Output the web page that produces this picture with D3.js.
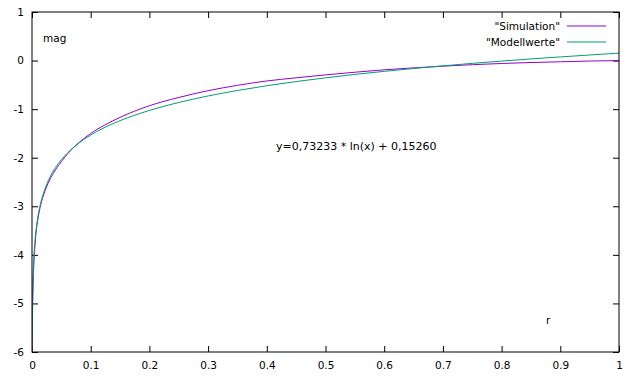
<!DOCTYPE html>
<html><head><meta charset="utf-8">
<script src="https://cdn.jsdelivr.net/npm/d3@7"></script>
<style>body{margin:0;background:#fff}text{font-family:"DejaVu Sans",sans-serif;font-size:10.5px;fill:#000}</style>
</head><body><svg id="c" width="635" height="381"></svg>
<script>
const rValues = [0.0002,0.0003,0.0005,0.001,0.002,0.003,0.005,0.0075,0.01,0.015,0.02,0.03,0.04,0.05,0.06,0.07,0.08,0.1,0.125,0.15,0.175,0.2,0.25,0.3,0.35,0.4,0.45,0.5,0.55,0.6,0.65,0.7,0.75,0.8,0.85,0.9,0.95,1.0];
const simulation = [-6.6,-6.2,-5.75,-5.15,-4.58,-4.24,-3.82,-3.48,-3.27,-2.96,-2.76,-2.46,-2.25,-2.08,-1.93,-1.80,-1.69,-1.50,-1.32,-1.17,-1.04,-0.93,-0.76,-0.62,-0.51,-0.42,-0.355,-0.295,-0.24,-0.19,-0.15,-0.115,-0.085,-0.06,-0.04,-0.025,-0.01,0.0];
const modellwerte = [-6.085,-5.788,-5.414,-4.906,-4.399,-4.102,-3.728,-3.431,-3.220,-2.923,-2.712,-2.415,-2.205,-2.041,-1.908,-1.795,-1.697,-1.533,-1.370,-1.237,-1.124,-1.026,-0.863,-0.729,-0.616,-0.518,-0.432,-0.355,-0.285,-0.222,-0.163,-0.109,-0.058,-0.011,0.034,0.075,0.115,0.153];
const xTicks = [0,0.1,0.2,0.3,0.4,0.5,0.6,0.7,0.8,0.9,1];
const yTicks = [-6,-5,-4,-3,-2,-1,0,1];
const seriesNames = ['"Simulation"','"Modellwerte"'];
const colors = ["#9400d3","#009e73"];

const svg = d3.select("#c");
const L=32,R=619,T=12,B=352;
const x = d3.scaleLinear().domain([0,1]).range([L,R]);
const y = d3.scaleLinear().domain([-6,1]).range([B,T]);

svg.append("defs").append("clipPath").attr("id","clip").append("rect").attr("x",L).attr("y",T).attr("width",R-L).attr("height",B-T);

const tk=6;
const gB = svg.append("g").attr("transform",`translate(0,${B})`).call(d3.axisBottom(x).tickValues(xTicks).tickSize(-tk).tickPadding(14).tickFormat(d=>String(d)));
const gT = svg.append("g").attr("transform",`translate(0,${T})`).call(d3.axisTop(x).tickValues(xTicks).tickSize(-tk).tickFormat(""));
const gL = svg.append("g").attr("transform",`translate(${L},0)`).call(d3.axisLeft(y).tickValues(yTicks).tickSize(-tk).tickPadding(8).tickFormat(d=>String(d)));
const gR = svg.append("g").attr("transform",`translate(${R},0)`).call(d3.axisRight(y).tickValues(yTicks).tickSize(-tk).tickFormat(""));
[gB,gT,gL,gR].forEach(g=>{g.select(".domain").remove();g.selectAll("line").attr("stroke","#000");g.selectAll("text").style("font-family",'"DejaVu Sans",sans-serif').style("font-size","10.5px");});
gB.selectAll("text").attr("dy","0.32em");

const series=[simulation,modellwerte];
const line = d3.line().x((d,i)=>x(rValues[i])).y(d=>y(d)).curve(d3.curveMonotoneX);
series.forEach((s,k)=>{
  svg.append("path").attr("clip-path","url(#clip)").attr("d",line(s)).attr("fill","none").attr("stroke",colors[k]).attr("stroke-width",1);
});

svg.append("rect").attr("x",L).attr("y",T).attr("width",R-L).attr("height",B-T).attr("fill","none").attr("stroke","#000").attr("stroke-width",1);

seriesNames.forEach((n,k)=>{
  const yy = 26 + k*16;
  svg.append("text").attr("x",560).attr("y",yy).attr("dy","0.35em").attr("text-anchor","end").text(n);
  svg.append("line").attr("x1",567).attr("x2",606).attr("y1",yy).attr("y2",yy).attr("stroke",colors[k]).attr("stroke-width",1);
});

svg.append("text").attr("x",43).attr("y",42).text("mag");
svg.append("text").attr("x",546).attr("y",324).text("r");
svg.append("text").attr("x",276).attr("y",150).style("font-size","11px").attr("xml:space","preserve").text("y=0,73233 * ln(x) + 0,15260");
</script></body></html>
